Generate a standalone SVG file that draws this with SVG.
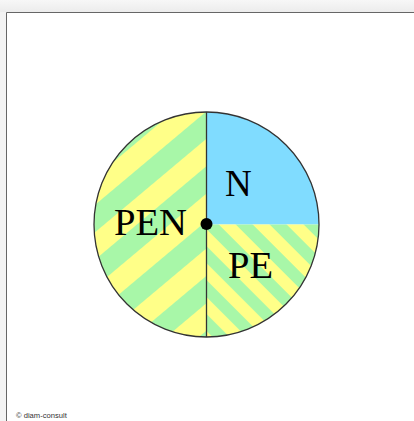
<svg xmlns="http://www.w3.org/2000/svg" width="414" height="421" viewBox="0 0 414 421">
  <style>
    .lbl { font-family: "Liberation Serif", "Times New Roman", serif; font-size: 37px; fill: #000; }
    .seg { stroke: none; }
    .edge { fill: none; stroke: #333; stroke-width: 1.3; }
    .copy { font-family: "Liberation Sans", Arial, sans-serif; font-size: 7.6px; fill: #333; }
  </style>
  <defs>
    <linearGradient id="topShade" x1="0" y1="0" x2="0" y2="1">
      <stop offset="0" stop-color="#f7f7f7"/>
      <stop offset="1" stop-color="#ececec"/>
    </linearGradient>
    <pattern id="wideStripes" patternUnits="userSpaceOnUse" width="42" height="42" patternTransform="rotate(-40) translate(0 8)">
      <rect width="42" height="42" fill="#ffff88"/>
      <rect width="42" height="21" fill="#a8f7a8"/>
    </pattern>
    <pattern id="narrowStripes" patternUnits="userSpaceOnUse" width="24" height="24" patternTransform="rotate(45) translate(0 4)">
      <rect width="24" height="24" fill="#ffff88"/>
      <rect width="24" height="12" fill="#a8f7a8"/>
    </pattern>
  </defs>

  <!-- page frame -->
  <rect x="0" y="0" width="414" height="421" fill="#f3f3f3"/>
  <rect x="0" y="0" width="414" height="12" fill="url(#topShade)"/>
  <rect x="7" y="13" width="407" height="408" fill="#ffffff"/>
  <path d="M6.5 421 V12.5 H414" fill="none" stroke="#666" stroke-width="1"/>

  <g id="node-PEN">
    <path class="seg" d="M206.5 112 A112.5 112.5 0 0 0 206.5 337 Z" fill="url(#wideStripes)"/>
    <text class="lbl" x="114" y="235" textLength="73" lengthAdjust="spacingAndGlyphs">PEN</text>
  </g>
  <g id="node-N">
    <path class="seg" d="M206.5 224.5 V112 A112.5 112.5 0 0 1 319 224.5 Z" fill="#80dcff"/>
    <text class="lbl" x="225" y="196">N</text>
  </g>
  <g id="node-PE">
    <path class="seg" d="M206.5 224.5 H319 A112.5 112.5 0 0 1 206.5 337 Z" fill="url(#narrowStripes)"/>
    <text class="lbl" x="228" y="278" textLength="45" lengthAdjust="spacingAndGlyphs">PE</text>
  </g>

  <g id="connectors">
    <circle class="edge" cx="206.5" cy="224.5" r="112.5"/>
    <line class="edge" x1="206.5" y1="112" x2="206.5" y2="337"/>
    <circle cx="206.5" cy="224" r="6" fill="#000"/>
  </g>

  <text class="copy" x="16" y="418">© diam-consult</text>
</svg>
